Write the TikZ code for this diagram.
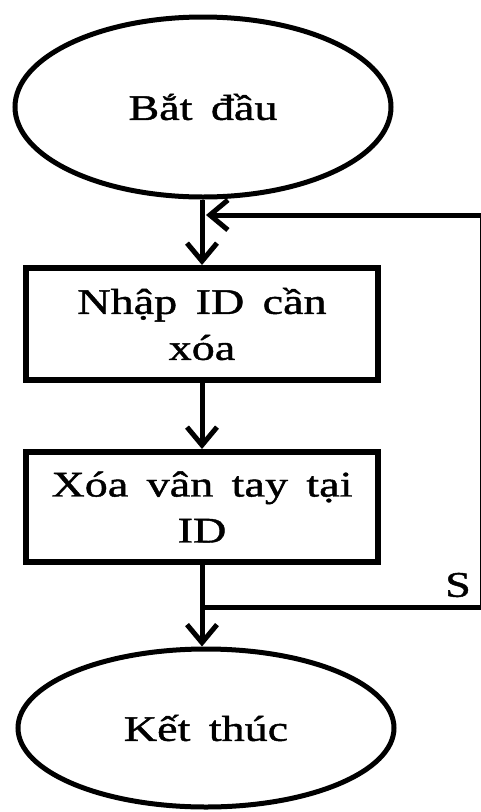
\documentclass[tikz,border=0pt]{standalone}
\usepackage{fontspec}
\setmainfont[FakeStretch=1.28,WordSpace=1.6,FakeBold=1.2]{Liberation Serif}
\usetikzlibrary{shapes.geometric,arrows.meta}

\begin{document}
\begin{tikzpicture}[x=1pt,y=-1pt,
  txt/.style={font=\fontsize{36}{46}\selectfont},
  term/.style={ellipse,draw,line width=5pt,inner sep=0pt,txt},
  procbox/.style={rectangle,draw,line width=6pt,align=center,inner sep=0pt,txt},
  link/.style={line width=5pt},
  flow/.style={link,-{Straight Barb[length=18pt,width=30pt]}}]
\useasboundingbox (0,0) rectangle (480,812);

% terminals and process steps
\node[term,minimum width=376pt,minimum height=180pt] (start) at (203,107) {Bắt đầu};
\node[procbox,minimum width=352pt,minimum height=112pt] (input) at (202,324) {Nhập ID cần\\xóa};
\node[procbox,minimum width=352pt,minimum height=110pt] (erase) at (202,507) {Xóa vân tay tại\\ID};
\node[term,minimum width=376pt,minimum height=158pt] (stop) at (206,728) {Kết thúc};

% junction points of the return loop (its right side runs along the page edge)
\coordinate (merge) at (206,215);
\coordinate (split) at (203,607);
\coordinate (loopbot) at (482.3,607);
\coordinate (looptop) at (482.3,215);

% main flow
\draw[flow] (start.south -| input.north) -- (input.north);
\draw[flow] (input.south) -- (erase.north);
\draw[flow] (erase.south) -- (erase.south |- stop.north);

% return loop
\draw[flow] (split) -- (loopbot) -- (looptop) -- (merge);

\node[txt,inner sep=0pt] (s) at (458,585) {S};
\end{tikzpicture}
\end{document}
